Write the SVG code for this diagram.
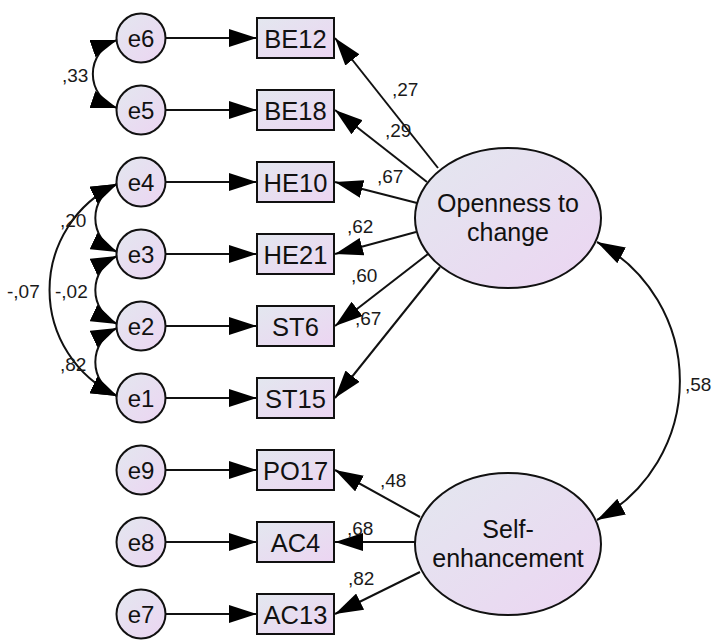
<svg xmlns="http://www.w3.org/2000/svg" width="712" height="641" viewBox="0 0 712 641">
  <defs>
    <linearGradient id="fill" x1="0" y1="0" x2="1" y2="1">
      <stop offset="0" stop-color="#e3e7ef"/>
      <stop offset="1" stop-color="#ecd5f2"/>
    </linearGradient>
    <marker id="ah" viewBox="0 0 28 18" refX="28" refY="9" markerWidth="28" markerHeight="18" markerUnits="userSpaceOnUse" orient="auto-start-reverse">
      <path d="M0,0 L28,9 L0,18 z" fill="#000"/>
    </marker>
    <marker id="ahs" viewBox="0 0 26 18" refX="26" refY="9" markerWidth="26" markerHeight="18" markerUnits="userSpaceOnUse" orient="auto-start-reverse">
      <path d="M0,0 L26,9 L0,18 z" fill="#000"/>
    </marker>
  </defs>
  <style>
    .node { fill: url(#fill); stroke: #111; stroke-width: 2; }
    .lbl { font-family: "Liberation Sans", Arial, sans-serif; fill: #111; text-anchor: middle; }
    .obs { font-size: 25.5px; }
    .err { font-size: 24px; }
    .lat { font-size: 25px; }
    .coef { font-family: "Liberation Sans", Arial, sans-serif; font-size: 19px; fill: #1a1a1a; }
    .path { fill: none; stroke: #111; stroke-width: 2; marker-end: url(#ah); }
    .cov { fill: none; stroke: #111; stroke-width: 2; marker-start: url(#ahs); marker-end: url(#ahs); }
  </style>

  <rect width="712" height="641" fill="#fff"/>

  <!-- connectors -->
  <g id="connectors">
    <!-- error terms to indicators -->
    <line class="path" x1="166" y1="38" x2="257" y2="38"/>
    <line class="path" x1="166" y1="110" x2="257" y2="110"/>
    <line class="path" x1="166" y1="182" x2="257" y2="182"/>
    <line class="path" x1="166" y1="254" x2="257" y2="254"/>
    <line class="path" x1="166" y1="326" x2="257" y2="326"/>
    <line class="path" x1="166" y1="398" x2="257" y2="398"/>
    <line class="path" x1="166" y1="470" x2="257" y2="470"/>
    <line class="path" x1="166" y1="542" x2="257" y2="542"/>
    <line class="path" x1="166" y1="614" x2="257" y2="614"/>

    <!-- loadings: Openness to change -->
    <line class="path" x1="438" y1="168" x2="335" y2="38"/>
    <line class="path" x1="427" y1="182" x2="335" y2="110"/>
    <line class="path" x1="417" y1="203" x2="335" y2="182"/>
    <line class="path" x1="416" y1="232" x2="335" y2="254"/>
    <line class="path" x1="428" y1="254" x2="335" y2="326"/>
    <line class="path" x1="440" y1="267" x2="335" y2="398"/>

    <!-- loadings: Self-enhancement -->
    <line class="path" x1="420" y1="517" x2="335" y2="470"/>
    <line class="path" x1="415" y1="542" x2="335" y2="542"/>
    <line class="path" x1="420" y1="572" x2="335" y2="614"/>

    <!-- error covariances -->
    <path class="cov" d="M117,40 A36,36 0 0 0 117,108"/>
    <path class="cov" d="M117,184 A37.5,37.5 0 0 0 117,252"/>
    <path class="cov" d="M117,256 A37.5,37.5 0 0 0 117,324"/>
    <path class="cov" d="M117,328 A37.5,37.5 0 0 0 117,396"/>
    <path class="cov" d="M117,184 A117,117 0 0 0 117,396"/>

    <!-- latent covariance -->
    <path class="cov" d="M597,242 A158,158 0 0 1 597,520" style="marker-start:url(#ah);marker-end:url(#ah)"/>
  </g>

  <!-- coefficient labels -->
  <g id="coefficients">
    <text class="coef" x="62" y="82">,33</text>
    <text class="coef" x="60" y="227">,20</text>
    <text class="coef" x="55" y="298">-,02</text>
    <text class="coef" x="7" y="298">-,07</text>
    <text class="coef" x="60" y="371">,82</text>
    <text class="coef" x="392" y="96">,27</text>
    <text class="coef" x="385" y="137">,29</text>
    <text class="coef" x="377" y="183">,67</text>
    <text class="coef" x="347" y="233">,62</text>
    <text class="coef" x="351" y="282">,60</text>
    <text class="coef" x="355" y="325">,67</text>
    <text class="coef" x="380" y="487">,48</text>
    <text class="coef" x="347" y="535">,68</text>
    <text class="coef" x="348" y="585">,82</text>
    <text class="coef" x="685" y="391">,58</text>
  </g>

  <!-- error terms -->
  <g id="e6"><circle class="node" cx="141" cy="38" r="24.5"/><text class="lbl err" x="141" y="46.5">e6</text></g>
  <g id="e5"><circle class="node" cx="141" cy="110" r="24.5"/><text class="lbl err" x="141" y="118.5">e5</text></g>
  <g id="e4"><circle class="node" cx="141" cy="182" r="24.5"/><text class="lbl err" x="141" y="190.5">e4</text></g>
  <g id="e3"><circle class="node" cx="141" cy="254" r="24.5"/><text class="lbl err" x="141" y="262.5">e3</text></g>
  <g id="e2"><circle class="node" cx="141" cy="326" r="24.5"/><text class="lbl err" x="141" y="334.5">e2</text></g>
  <g id="e1"><circle class="node" cx="141" cy="398" r="24.5"/><text class="lbl err" x="141" y="406.5">e1</text></g>
  <g id="e9"><circle class="node" cx="141" cy="470" r="24.5"/><text class="lbl err" x="141" y="478.5">e9</text></g>
  <g id="e8"><circle class="node" cx="141" cy="542" r="24.5"/><text class="lbl err" x="141" y="550.5">e8</text></g>
  <g id="e7"><circle class="node" cx="141" cy="614" r="24.5"/><text class="lbl err" x="141" y="622.5">e7</text></g>

  <!-- observed indicators -->
  <g id="BE12"><rect class="node" x="257" y="18" width="77" height="40"/><text class="lbl obs" x="295.5" y="47.5">BE12</text></g>
  <g id="BE18"><rect class="node" x="257" y="90" width="77" height="40"/><text class="lbl obs" x="295.5" y="119.5">BE18</text></g>
  <g id="HE10"><rect class="node" x="257" y="162" width="77" height="40"/><text class="lbl obs" x="295.5" y="191.5">HE10</text></g>
  <g id="HE21"><rect class="node" x="257" y="234" width="77" height="40"/><text class="lbl obs" x="295.5" y="263.5">HE21</text></g>
  <g id="ST6"><rect class="node" x="257" y="306" width="77" height="40"/><text class="lbl obs" x="295.5" y="335.5">ST6</text></g>
  <g id="ST15"><rect class="node" x="257" y="378" width="77" height="40"/><text class="lbl obs" x="295.5" y="407.5">ST15</text></g>
  <g id="PO17"><rect class="node" x="257" y="450" width="77" height="40"/><text class="lbl obs" x="295.5" y="479.5">PO17</text></g>
  <g id="AC4"><rect class="node" x="257" y="522" width="77" height="40"/><text class="lbl obs" x="295.5" y="551.5">AC4</text></g>
  <g id="AC13"><rect class="node" x="257" y="594" width="77" height="40"/><text class="lbl obs" x="295.5" y="623.5">AC13</text></g>

  <!-- latent factors -->
  <g id="openness">
    <ellipse class="node" cx="508" cy="218" rx="93" ry="70"/>
    <text class="lbl lat" x="508" y="212">Openness to</text>
    <text class="lbl lat" x="508" y="241">change</text>
  </g>
  <g id="self-enhancement">
    <ellipse class="node" cx="508" cy="544" rx="93" ry="71"/>
    <text class="lbl lat" x="508" y="538">Self-</text>
    <text class="lbl lat" x="508" y="567">enhancement</text>
  </g>
</svg>
